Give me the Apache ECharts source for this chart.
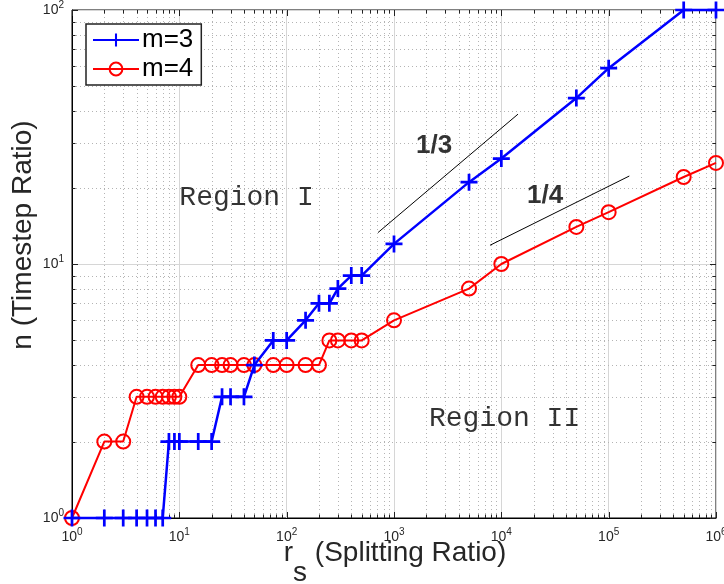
<!DOCTYPE html>
<html>
<head>
<meta charset="utf-8">
<script src="https://cdn.jsdelivr.net/npm/echarts@6/dist/echarts.min.js"></script>
<style>html,body{margin:0;padding:0;background:#fff;}#c{width:724px;height:584px;}</style>
</head>
<body>
<div id="c"></div>
<script>
// ---- data ----
const rsValues = [1,2,3,4,5,6,7,8,9,10,15,20,25,30,40,50,75,100,150,200,250,300,400,500,1000,5000,10000,50000,100000,500000,1000000];
const nM3 = [1,1,1,1,1,1,1,2,2,2,2,2,3,3,3,4,5,5,6,7,7,8,9,9,12,21,26,45,59,100,100];
const nM4 = [1,2,2,3,3,3,3,3,3,3,4,4,4,4,4,4,4,4,4,4,5,5,5,5,6,8,10,14,16,22,25];
const seriesNames = ['m=3','m=4'];
const slope13X = [710, 14300];
const slope13Y = [13.3, 38.9];
const slope14X = [7840, 155700];
const slope14Y = [11.85, 22.2];
const annotationTexts = ['Region I','Region II','1/3','1/4'];
const annotationX = [42.3, 10730, 2365, 25600];
const annotationY = [18.2, 2.47, 29.1, 18.5];
const xDecades = [1,10,100,1000,10000,100000,1000000];
const yDecades = [1,10,100];
const xAxisName = ['r', 's', ' (Splitting Ratio)'];
const yAxisName = 'n (Timestep Ratio)';

// minor tick values (2..9 per decade)
const xMinor = [];
for (let k = 0; k < 6; k++) for (let m = 2; m <= 9; m++) xMinor.push(m * Math.pow(10, k));
const yMinor = [];
for (let k = 0; k < 2; k++) for (let m = 2; m <= 9; m++) yMinor.push(m * Math.pow(10, k));

const decorData = [];
xMinor.forEach(v => decorData.push([v, 1, 0]));
yMinor.forEach(v => decorData.push([1, v, 1]));
xDecades.forEach(v => decorData.push([v, 1, 2]));
yDecades.forEach(v => decorData.push([1, v, 3]));

const X_MIN = 1, X_MAX = 1000000, Y_MIN = 1, Y_MAX = 100;

const chart = echarts.init(document.getElementById('c'), null, {renderer: 'canvas'});

const tickLabel = {
  formatter: v => '{b|10}{s|' + Math.round(Math.log10(v)) + '}',
  rich: {
    b: {fontFamily: 'Liberation Sans', fontSize: 14, color: '#262626'},
    s: {fontFamily: 'Liberation Sans', fontSize: 10, color: '#262626', padding: [0, 0, 10, 0]}
  }
};

const plusPath = 'path://M-1.6,-10 L1.6,-10 L1.6,-1.6 L10,-1.6 L10,1.6 L1.6,1.6 L1.6,10 L-1.6,10 L-1.6,1.6 L-10,1.6 L-10,-1.6 L-1.6,-1.6 Z';

const option = {
  backgroundColor: '#fff',
  animation: false,
  grid: {left: 72, right: 8, top: 10, bottom: 66, show: true, borderColor: '#000', borderWidth: 1, backgroundColor: 'transparent', containLabel: false, outerBoundsMode: 'none'},
  xAxis: {
    type: 'log', logBase: 10, min: X_MIN, max: X_MAX, splitNumber: 6,
    axisLine: {show: true, onZero: false, lineStyle: {color: '#000', width: 1}},
    axisTick: {show: false},
    axisLabel: Object.assign({margin: 9, hideOverlap: false}, tickLabel),
    splitLine: {show: true, lineStyle: {color: '#d6d6d6', width: 1}},
    minorTick: {show: false}, minorSplitLine: {show: false}
  },
  yAxis: {
    type: 'log', logBase: 10, min: Y_MIN, max: Y_MAX, splitNumber: 2,
    axisLine: {show: true, onZero: false, lineStyle: {color: '#000', width: 1}},
    axisTick: {show: false},
    axisLabel: Object.assign({margin: 8}, tickLabel),
    splitLine: {show: true, lineStyle: {color: '#d6d6d6', width: 1}},
    minorTick: {show: false}, minorSplitLine: {show: false}
  },
  legend: {
    data: seriesNames,
    orient: 'vertical',
    left: 86, top: 24,
    itemWidth: 46, itemHeight: 16, itemGap: 3,
    padding: [3, 8, 3, 6],
    borderColor: '#222', borderWidth: 1.5,
    backgroundColor: '#fff',
    textStyle: {fontFamily: 'Liberation Sans', fontSize: 26, color: '#000', padding: [0, 0, 0, -2]},
    z: 20
  },
  series: [
    {
      type: 'custom', name: 'decor', silent: true, z: 1,
      coordinateSystem: 'cartesian2d',
      encode: {x: 0, y: 1},
      data: decorData,
      renderItem: function (params, api) {
        const a = api.value(0), b = api.value(1), kind = api.value(2);
        const ch = [];
        const snap = p => Math.round(p) + 0.5;
        if (kind === 0 || kind === 2) {
          const p1 = api.coord([a, Y_MIN]), p2 = api.coord([a, Y_MAX]);
          const x = snap(p1[0]);
          const len = kind === 2 ? 6 : 3.5;
          if (kind === 0) ch.push({type: 'line', shape: {x1: x, y1: p1[1], x2: x, y2: p2[1]}, style: {stroke: '#b4b4b4', lineWidth: 1, lineDash: [1, 3]}});
          ch.push({type: 'line', shape: {x1: x, y1: p1[1], x2: x, y2: p1[1] - len}, style: {stroke: '#222', lineWidth: 1}});
          ch.push({type: 'line', shape: {x1: x, y1: p2[1], x2: x, y2: p2[1] + len}, style: {stroke: '#222', lineWidth: 1}});
        } else {
          const p1 = api.coord([X_MIN, b]), p2 = api.coord([X_MAX, b]);
          const y = snap(p1[1]);
          const len = kind === 3 ? 6 : 3.5;
          if (kind === 1) ch.push({type: 'line', shape: {x1: p1[0], y1: y, x2: p2[0], y2: y}, style: {stroke: '#b4b4b4', lineWidth: 1, lineDash: [1, 3]}});
          ch.push({type: 'line', shape: {x1: p1[0], y1: y, x2: p1[0] + len, y2: y}, style: {stroke: '#222', lineWidth: 1}});
          ch.push({type: 'line', shape: {x1: p2[0], y1: y, x2: p2[0] - len, y2: y}, style: {stroke: '#222', lineWidth: 1}});
        }
        return {type: 'group', children: ch};
      }
    },
    {
      type: 'line', name: 'slope13', silent: true, z: 3, clip: false,
      data: slope13X.map((x, i) => [x, slope13Y[i]]),
      showSymbol: false, symbol: 'none',
      lineStyle: {color: '#000', width: 1}
    },
    {
      type: 'line', name: 'slope14', silent: true, z: 3, clip: false,
      data: slope14X.map((x, i) => [x, slope14Y[i]]),
      showSymbol: false, symbol: 'none',
      lineStyle: {color: '#000', width: 1}
    },
    {
      type: 'line', name: seriesNames[1], z: 4, clip: false,
      data: rsValues.map((x, i) => [x, nM4[i]]),
      symbol: 'circle', symbolSize: 14,
      color: '#ff0000',
      lineStyle: {color: '#ff0000', width: 2},
      itemStyle: {color: 'rgba(255,255,255,0)', borderColor: '#ff0000', borderWidth: 2}
    },
    {
      type: 'line', name: seriesNames[0], z: 5, clip: false,
      data: rsValues.map((x, i) => [x, nM3[i]]),
      symbol: plusPath, symbolSize: 17,
      color: '#0000ff',
      lineStyle: {color: '#0000ff', width: 2.5},
      itemStyle: {color: '#0000ff', borderWidth: 0}
    },
    {
      type: 'scatter', name: 'annotations', silent: true, z: 6,
      symbolSize: 0,
      data: annotationTexts.map((t, i) => ({value: [annotationX[i], annotationY[i]], name: t})),
      label: {
        show: true, position: 'inside',
        formatter: p => p.data.name.indexOf('/') >= 0 ? '{f|' + p.data.name + '}' : '{r|' + p.data.name + '}',
        rich: {
          r: {fontFamily: 'Liberation Mono', fontSize: 28, color: '#000'},
          f: {fontFamily: 'Liberation Sans', fontSize: 26, fontWeight: 'bold', color: '#000'}
        }
      }
    }
  ],
  graphic: [
    {
      type: 'text', rotation: Math.PI / 2, x: 23, y: 235,
      style: {text: yAxisName, fontFamily: 'Liberation Sans', fontSize: 28, fill: '#262626', align: 'center', verticalAlign: 'middle'}
    },
    {
      type: 'text', x: 395, y: 553,
      style: {
        text: '{m|' + xAxisName[0] + '}{sub|' + xAxisName[1] + '}{m|' + xAxisName[2] + '}',
        rich: {
          m: {fontFamily: 'Liberation Sans', fontSize: 28, fill: '#262626'},
          sub: {fontFamily: 'Liberation Sans', fontSize: 28, fill: '#262626', padding: [40, 0, 0, 0]}
        },
        align: 'center', verticalAlign: 'middle'
      }
    }
  ]
};
chart.setOption(option);
</script>
</body>
</html>
